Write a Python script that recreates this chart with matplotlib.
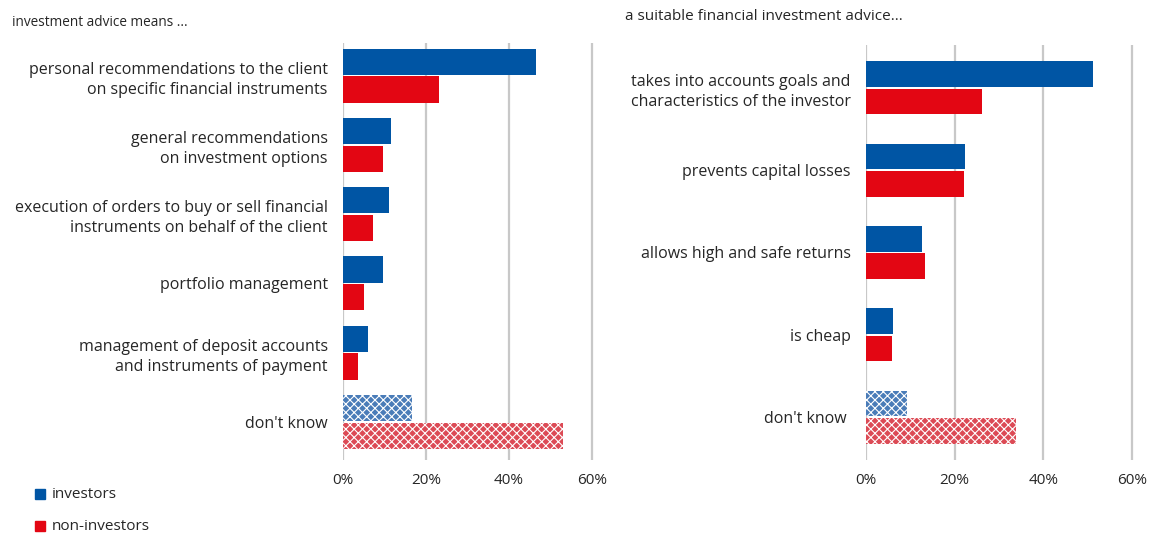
import matplotlib

matplotlib.use("Agg")

import matplotlib.pyplot as plt
import numpy as np

plt.rcParams["font.family"] = ["Open Sans", "DejaVu Sans"]
plt.rcParams["hatch.linewidth"] = 0.8

BLUE = "#0055a4"
RED = "#e30613"
BLUE_HATCH = "#4a7cb8"
RED_HATCH = "#dc4a55"
TEXT = "#262626"
GRID = "#c8c8c8"

# investment advice means ...
left_labels = [
    "personal recommendations to the client\non specific financial instruments",
    "general recommendations\non investment options",
    "execution of orders to buy or sell financial\ninstruments on behalf of the client",
    "portfolio management",
    "management of deposit accounts\nand instruments of payment",
    "don't know",
]
left_investors = [46.5, 11.6, 11.1, 9.6, 6.0, 16.6]
left_non_investors = [23.1, 9.6, 7.2, 5.1, 3.6, 53.0]

# a suitable financial investment advice...
right_labels = [
    "takes into accounts goals and\ncharacteristics of the investor",
    "prevents capital losses",
    "allows high and safe returns",
    "is cheap",
    "don't know ",
]
right_investors = [51.1, 22.3, 12.6, 6.1, 9.2]
right_non_investors = [26.1, 22.2, 13.3, 5.9, 33.8]

ticks = [0, 20, 40, 60]
tick_labels = ["0%", "20%", "40%", "60%"]


def draw_panel(ax, labels, inv, non_inv, height, offset, pad_top, pad_bottom):
    n = len(labels)
    y = np.arange(n)
    for i in range(n):
        hatched = i == n - 1
        ax.barh(y[i] - offset, inv[i], height=height,
                color=BLUE_HATCH if hatched else BLUE,
                edgecolor="white" if hatched else "none",
                hatch="xxxx" if hatched else None, linewidth=0, zorder=3)
        ax.barh(y[i] + offset, non_inv[i], height=height,
                color=RED_HATCH if hatched else RED,
                edgecolor="white" if hatched else "none",
                hatch="xxxx" if hatched else None, linewidth=0, zorder=3)
    ax.set_ylim(n - 1 + pad_bottom, -pad_top)
    ax.set_xlim(0, 62)
    ax.set_yticks(y)
    ax.set_yticklabels(labels, fontsize=11.5, color=TEXT, linespacing=1.35)
    ax.set_xticks(ticks)
    ax.set_xticklabels(tick_labels, fontsize=11, color=TEXT)
    ax.tick_params(length=0, axis="y", pad=11)
    ax.tick_params(length=0, axis="x", pad=9)
    ax.grid(axis="x", color=GRID, linewidth=1.6, zorder=0)
    for s in ax.spines.values():
        s.set_visible(False)


fig = plt.figure(figsize=(11.55, 5.37), dpi=100)

ax1 = fig.add_axes([343 / 1155, 1 - 460 / 537, 257 / 1155, 417 / 537])
draw_panel(ax1, left_labels, left_investors, left_non_investors,
           height=0.38, offset=0.2, pad_top=0.47, pad_bottom=0.55)

ax2 = fig.add_axes([866 / 1155, 1 - 460 / 537, 275 / 1155, 415 / 537])
draw_panel(ax2, right_labels, right_investors, right_non_investors,
           height=0.31, offset=0.165, pad_top=0.52, pad_bottom=0.52)

fig.text(12 / 1155, 1 - 22 / 537, "investment advice means ...",
         fontsize=9.8, color=TEXT, va="center")
fig.text(625 / 1155, 1 - 17 / 537, "a suitable financial investment advice...",
         fontsize=11, color=TEXT, va="center")

# legend
for ypix, col, name in [(494, BLUE, "investors"), (526, RED, "non-investors")]:
    fig.patches.append(plt.Rectangle((35 / 1155, 1 - (ypix + 5) / 537),
                                     10 / 1155, 10 / 537, color=col,
                                     transform=fig.transFigure, figure=fig))
    fig.text(52 / 1155, 1 - ypix / 537, name, fontsize=11, color=TEXT,
             va="center")

fig.savefig("out.png", dpi=100)
